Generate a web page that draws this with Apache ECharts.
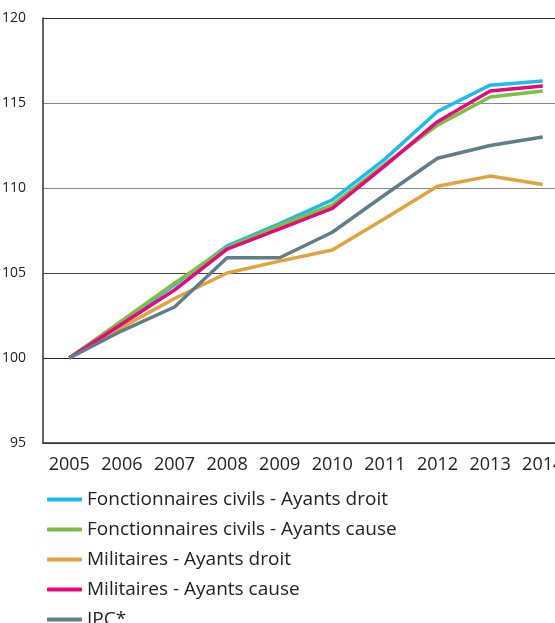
<!DOCTYPE html>
<html>
<head>
<meta charset="utf-8">
<script src="https://cdn.jsdelivr.net/npm/echarts@6/dist/echarts.min.js"></script>
<style>
  html, body { margin: 0; padding: 0; background: #fff; }
  #chart { width: 555px; height: 623px; }
</style>
</head>
<body>
<div id="chart"></div>
<script>
// années
var years = ["2005", "2006", "2007", "2008", "2009", "2010", "2011", "2012", "2013", "2014"];

// indices base 100 en 2005
var civilsDroit = [100, 102.1, 104.3, 106.6, 107.9, 109.3, 111.7, 114.5, 116.05, 116.3];
var civilsCause = [100, 102.2, 104.4, 106.5, 107.8, 109.0, 111.4, 113.7, 115.35, 115.7];
var militairesDroit = [100, 101.8, 103.5, 105.0, 105.7, 106.35, 108.2, 110.1, 110.7, 110.2];
var militairesCause = [100, 102.0, 104.0, 106.4, 107.6, 108.8, 111.3, 113.9, 115.7, 116.0];
var ipc = [100, 101.6, 103.0, 105.9, 105.9, 107.4, 109.6, 111.75, 112.5, 113.0];

var seriesNames = [
  "Fonctionnaires civils - Ayants droit",
  "Fonctionnaires civils - Ayants cause",
  "Militaires - Ayants droit",
  "Militaires - Ayants cause",
  "IPC*"
];
var colors = ["#1bbcec", "#7cc043", "#e0a33e", "#e5087f", "#5f7d8a"];
var values = [civilsDroit, civilsCause, militairesDroit, militairesCause, ipc];

var font = "Open Sans";

var chart = echarts.init(document.getElementById("chart"));

var series = [];
// ordre de dessin : IPC et militaires dessous, civils dessus
[4, 2, 1, 3, 0].forEach(function (i) {
  series.push({
    name: seriesNames[i],
    type: "line",
    data: values[i],
    symbol: "none",
    z: 2 + i,
    lineStyle: { width: 3.5, color: colors[i] },
    itemStyle: { color: colors[i] }
  });
});

chart.setOption({
  animation: false,
  color: colors,
  grid: {
    left: 43,
    top: 18,
    width: 526,
    height: 425,
    outerBoundsMode: "none"
  },
  xAxis: {
    type: "category",
    data: years,
    boundaryGap: true,
    axisTick: { show: false },
    axisLine: { lineStyle: { color: "#333", width: 1.5 } },
    axisLabel: {
      interval: 0,
      margin: 13,
      color: "#222",
      fontSize: 18,
      fontFamily: font
    }
  },
  yAxis: {
    type: "value",
    min: 95,
    max: 120,
    interval: 5,
    axisTick: { show: false },
    axisLine: { show: true, lineStyle: { color: "#333", width: 1.5 } },
    axisLabel: {
      margin: 17,
      color: "#222",
      fontSize: 14,
      fontFamily: font
    },
    splitLine: {
      show: true,
      lineStyle: {
        color: ["#333", "#222", "#444", "#888", "#888", "#333"],
        width: 1.2
      }
    }
  },
  legend: {
    orient: "vertical",
    left: 47,
    top: 490,
    height: 200,
    padding: 0,
    icon: "roundRect",
    itemWidth: 35,
    itemHeight: 4,
    itemGap: 11,
    data: seriesNames,
    textStyle: {
      color: "#222",
      fontSize: 19,
      fontFamily: font
    }
  },
  series: series
});
</script>
</body>
</html>
